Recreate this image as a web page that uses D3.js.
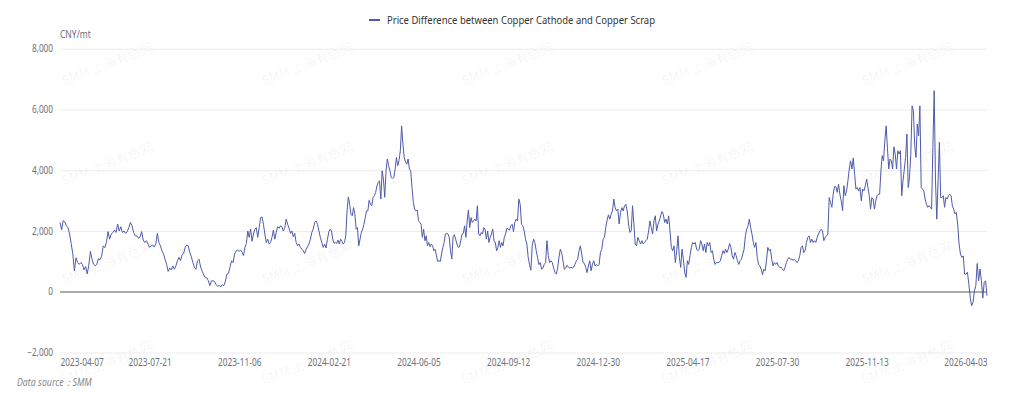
<!DOCTYPE html>
<html>
<head>
<meta charset="utf-8">
<script src="https://cdn.jsdelivr.net/npm/d3@7/dist/d3.min.js"></script>
<style>
  html, body { margin: 0; padding: 0; background: #fff; }
  svg { display: block; }
</style>
</head>
<body>
<svg id="chart" width="1024" height="399"></svg>
<script>
// ---------------- DATA ----------------
const seriesName = "Price Difference between Copper Cathode and Copper Scrap";
const unitLabel = "CNY/mt";
const sourceLabel = "Data source：SMM";
const watermarkText = "SMM 上海有色网";

// x-axis tick labels and their trading-day index
const tickDates = ["2023-04-07","2023-07-21","2023-11-06","2024-02-21","2024-06-05","2024-09-12","2024-12-30","2025-04-17","2025-07-30","2025-11-13","2026-04-03"];
const tickDays  = [0, 70, 140, 210, 280, 350, 420, 490, 560, 630, 724];
const lastDay = 724;
const yTicks = [-2000, 0, 2000, 4000, 6000, 8000];

// values (CNY/mt), one array per labelled period
const p2023a = [2280,2040,2340,2300,2170,2110,1900,1580,1250,690,1120,960,900,960,900,720,830,590,870,1330,1070,900,850,900,1090,1050,1170,1510,1450,1620,1980,1730,1900,1950,2030,1950,2230,2000,2140,1950,2000,1920,1980,2110,2280,2170,1950,1840,1840,1760,1800,1980,1700,1620,1680,1570];
const p2023b = [1460,1510,1540,1470,1570,1920,1620,1510,1350,1240,1070,900,670,780,720,850,740,850,1020,1130,1020,1220,1260,1460,1540,1510,1290,1150,960,800,740,1020,1070,810,680,550,460,460,360,200,360,360,340,230,180,210,160,230,200,340,580,600,800,1020,960,1240,1350,1370];
const p2023c = [1330,1370,1300,1190,1460,1590,2000,1790,2060,1660,1900,2060,2110,1790,2110,2440,2460,2220,1900,1620,1730,1570,1620,1790,2030,1730,1950,2140,2090,2170,2140,2000,2110,2390,2220,2090,1920,2000,1810,1920,1620,1510,1570,1460,1400,1350,1260,1400,1480,1570,1730,1950,2060,2280,2330,2220,2000,1790,1620,1460,1570,1440,1730];
const p2024a = [1980,2060,2000,1730,1590,1620,1590,1700,1570,1730,1660,1570,1620,1840,2660,3120,2880,2550,2500,2770,2550,2060,2110,1510,1730,1950,2060,2220,2440,2660,2660,3010,2880,2830,3100,3160,3270,3490,3600,3650,3050,3980,3710,3110,3980,4370,4150,3980,3760,3730,3760,4040,4420,4150,4310,4640,5460,4860,4420,4260,4200,4370,4040,3980,3430,2940,2720,2660,2690];
const p2024b = [2340,2280,2220,1790,2060,1680,1840,1510,1620,1480,1570,1510,1350,1400,1180,1000,1020,1000,1240,1460,1620,1900,1920,1900,1790,1350,1080,1810,1880,1730,1570,1460,1480,1680,1900,1920,2170,1790,2330,2690,2110,2440,2280,2330,2390,2330,2830,1900,1840,1950,1900,2110,2060,1730,2000,1620,1790,1900,2060,1680,1620,1350,1460,1680,1460,1620,1510,1790,1900,2090];
const p2024c = [2060,2030,2170,2220,1980,2280,2390,2330,3050,2880,2220,2170,2000,1730,1570,1130,890,710,1510,1730,1620,1350,1130,890,960,740,780,900,960,1680,1190,960,1020,960,780,640,580,780,1130,1400,1290,1020,740,780,870,810,780,800,780,810,900,1020,1070,1350,1510,1240,960,930,800,630,850,1020,690,900,1020,850,900];
const p2025a = [850,900,1290,1400,1730,1790,2120,2360,2530,2390,2550,2660,3050,2770,2660,2720,2230,2610,2770,2660,2830,2880,2660,2230,1950,2000,2830,2230,1570,1510,1790,1680,1570,1680,1570,1620,1680,1730,2000,2330,2110,1900,2330,2500,2000,2230,2330,2500,2640,2550,2280,2390,2230,2500,2000,1460,1350,1510,960,1350,1840,1130,800,1400,1070,630,470];
const p2025b = [1020,900,1190,1460,1620,1570,1620,1400,1350,1400,1680,1570,1350,1570,1290,1620,1510,1620,1290,1350,1070,900,960,960,960,1020,1190,1350,1260,1400,1290,1400,1590,1460,1190,1070,1290,1190,1020,900,1020,1070,1240,1400,1840,2060,2170,2390,2110,1900,1620,1460,1620,1130,900,850,740,560,740,690,1020,1460,1350,1400,1070,850,960,900];
const p2025c = [960,850,800,810,740,690,800,960,1070,1130,1070,1070,1040,1070,1020,960,1020,1190,1460,1510,1290,1350,1620,1790,1840,1620,1730,1620,1680,1620,1790,1900,2000,2060,2000,1680,1790,1840,1900,3100,2940,2780,3210,3460,3460,3270,3540,3210,2990,2670,3490,3160,3320,3650,4040,4310,4040,4400,3870,3380,3430,3320,3430,2990,3380,3320,3490];
const p2025d = [3710,3430,3160,2720,3100,3050,2720,2990,3160,3210,3210,3980,4480,4310,4970,5460,4750,4040,4370,4310,4040,4770,4530,4040,4640,4530,4640,3160,3650,4040,4420,5190,3430,3760,4530,6120,5960,4810,4420,5520,5130,6120,3430,3380,3320,3050,2890,2780,2830,2780,2720,4750,6620,3650,2390,3650,4920,3100,3100,3160,2780,3100,3050,3160,3210,3160,2830,2720,2560];
const p2026a = [2610,2230,1570,1240,1130,1180,580,580,640,250,-190,-460,-350,30,200,930,360,750,360,-210,310,360,-130];

const periods = [p2023a,p2023b,p2023c,p2024a,p2024b,p2024c,p2025a,p2025b,p2025c,p2025d,p2026a];
const periodStart = [0,70,140,210,280,350,420,490,560,630,700];

// ---------------- CHART ----------------
const svg = d3.select("#chart");
const plotLeft = 60, plotRight = 987, plotTop = 48.7, plotBottom = 352.5;

const x = d3.scaleLinear().domain([0, lastDay]).range([plotLeft, plotRight]);
const y = d3.scaleLinear().domain([-2000, 8000]).range([plotBottom, plotTop]);

const points = [];
periods.forEach((arr, k) => {
  const start = periodStart[k];
  const isLast = k === periods.length - 1;
  const end = isLast ? lastDay : periodStart[k + 1];
  const n = arr.length;
  const step = isLast ? (end - start) / (n - 1) : (end - start) / n;
  arr.forEach((v, j) => points.push({ day: start + j * step, value: v }));
});

const axisFont = "'Noto Sans', 'Liberation Sans', sans-serif";
const labelColor = "#6E7079";

function squeeze(sel, factor) {
  sel.each(function () {
    const w = this.getComputedTextLength();
    d3.select(this).attr("textLength", w * factor).attr("lengthAdjust", "spacingAndGlyphs");
  });
}

// watermark
const wm = svg.append("g").attr("class", "watermark");
[63, 163, 262, 362].forEach(cy => {
  [107, 307, 507, 707, 907].forEach(cx => {
    wm.append("text")
      .attr("transform", `translate(${cx},${cy}) rotate(-21)`)
      .attr("text-anchor", "middle")
      .attr("dominant-baseline", "central")
      .attr("font-family", "'Noto Sans CJK SC', 'Noto Sans', sans-serif")
      .attr("font-size", 13)
      .attr("fill", "#000")
      .attr("fill-opacity", 0.055)
      .text(watermarkText);
  });
});

// grid lines (y axis)
const yAxis = d3.axisLeft(y).tickValues(yTicks).tickSize(-(plotRight - plotLeft)).tickPadding(7)
  .tickFormat(d => d3.format(",")(d));
const gy = svg.append("g").attr("transform", `translate(${plotLeft},0)`).call(yAxis);
gy.select(".domain").remove();
gy.selectAll(".tick line").attr("stroke", d => d === 0 ? "#9a9a9a" : "#ececec").attr("stroke-width", 1);
gy.selectAll(".tick text")
  .attr("fill", labelColor).attr("font-size", 10).attr("font-family", axisFont)
  .call(squeeze, 0.82);

// x axis labels
const xAxis = d3.axisBottom(x).tickValues(tickDays).tickSize(0).tickPadding(6)
  .tickFormat((d, i) => tickDates[i]);
const gx = svg.append("g").attr("transform", `translate(0,${plotBottom})`).call(xAxis);
gx.select(".domain").remove();
gx.selectAll(".tick text")
  .attr("fill", labelColor).attr("font-size", 10).attr("font-family", axisFont)
  .attr("text-anchor", (d, i) => i === 0 ? "start" : (i === tickDays.length - 1 ? "end" : "middle"))
  .call(squeeze, 0.83);

// zero line on top of grid
svg.append("line")
  .attr("x1", plotLeft).attr("x2", plotRight).attr("y1", y(0)).attr("y2", y(0))
  .attr("stroke", "#9a9a9a").attr("stroke-width", 1);

// series line
const line = d3.line().x(d => x(d.day)).y(d => y(d.value));
svg.append("path")
  .datum(points)
  .attr("fill", "none")
  .attr("stroke", "#4f5ba8")
  .attr("stroke-width", 1)
  .attr("stroke-linejoin", "round")
  .attr("d", line);

// unit label
svg.append("text")
  .attr("x", plotLeft).attr("y", 38)
  .attr("fill", labelColor).attr("font-size", 10).attr("font-family", axisFont)
  .text(unitLabel).call(squeeze, 0.85);

// legend
const lg = svg.append("g");
lg.append("line").attr("x1", 369).attr("x2", 380).attr("y1", 20).attr("y2", 20)
  .attr("stroke", "#4f5ba8").attr("stroke-width", 2);
lg.append("text").attr("x", 387).attr("y", 20).attr("dominant-baseline", "central")
  .attr("fill", "#333").attr("font-size", 10.5).attr("font-family", axisFont)
  .attr("textLength", 268).attr("lengthAdjust", "spacingAndGlyphs")
  .text(seriesName);

// source
svg.append("text")
  .attr("x", 17).attr("y", 386)
  .attr("fill", "#888").attr("font-size", 10).attr("font-style", "italic").attr("font-family", axisFont)
  .text(sourceLabel).call(squeeze, 0.88);
</script>
</body>
</html>
